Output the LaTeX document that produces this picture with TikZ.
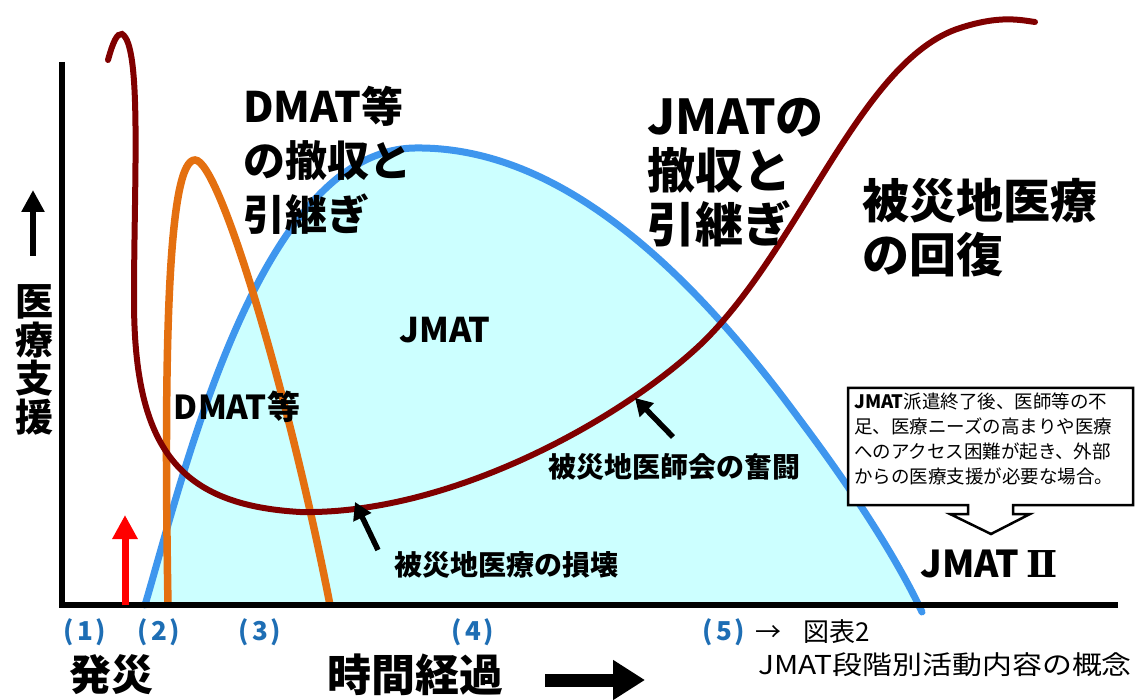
\documentclass[tikz,border=0pt]{standalone}
\usepackage{fontspec}
\setmainfont{Noto Sans CJK JP}
\newfontfamily\romanfont{DejaVu Serif}
\usetikzlibrary{arrows.meta}
\definecolor{maroon}{RGB}{128,0,0}
\definecolor{jorange}{RGB}{228,112,16}
\definecolor{jblue}{RGB}{62,150,238}
\definecolor{jfill}{RGB}{204,255,255}
\definecolor{numblue}{RGB}{30,110,180}
\tikzset{
  lbl/.style={inner sep=0pt, font=\bfseries},
  curve/.style={line width=7pt, line cap=round},
  ptr/.style={line width=5.5pt, -{Triangle[width=19pt,length=17pt]}},
  num/.style={inner sep=0pt, text=numblue, font=\bfseries\fontsize{26}{30}\selectfont},
}
\begin{document}
\begin{tikzpicture}[x=1pt,y=-1pt]
\useasboundingbox (0,0) rectangle (1135,700);
% JMAT area
\fill[jfill] (145,605) .. controls (185,470) and (260,150) .. (415,148)
  .. controls (560,146) and (690,270) .. (800,420)
  .. controls (860,500) and (895,560) .. (916,605) -- cycle;
\draw[curve, jblue] (145,605) .. controls (185,470) and (260,150) .. (415,148)
  .. controls (560,146) and (690,270) .. (800,420)
  .. controls (860,500) and (900,565) .. (922,612);
% DMAT curve
\draw[curve, jorange, line width=7.5pt, line cap=butt] (168,605) .. controls (163,320) and (170,160) .. (195,160)
  .. controls (220,160) and (290,400) .. (330,605);
% local medical curve
\draw[line width=6pt, maroon, line cap=round] (108,60) .. controls (113,42) and (117,33) .. (122,34)
  .. controls (142,45) and (134,180) .. (134,300)
  .. controls (134,450) and (180,505) .. (300,512)
  .. controls (450,515) and (620,420) .. (700,345)
  .. controls (800,250) and (860,60) .. (960,28)
  .. controls (1000,15) and (1020,20) .. (1035,22);
% axes
\draw[line width=5.5pt, line cap=butt] (62,62) -- (62,605) -- (1118,605);
% red onset arrow
\coordinate (r0) at (125,605);
\coordinate (r1) at (125,515);
\draw[red, line width=7pt, -{Triangle[width=24pt,length=24pt]}] (r0) -- (r1);
% y axis arrow and label
\coordinate (ya0) at (33,256);
\coordinate (ya1) at (33,190);
\draw[line width=6pt, -{Triangle[width=22pt,length=22pt]}] (ya0) -- (ya1);
\node[lbl, font=\bfseries\fontsize{38}{38.5}\selectfont, align=center] (ylab) at (34,360) {医\\療\\支\\援};
% texts
\node[lbl, font=\bfseries\fontsize{42}{54}\selectfont, align=left, anchor=west] (dmatw) at (243,160) {DMAT等\\の撤収と\\引継ぎ};
\node[lbl, font=\bfseries\fontsize{48}{54}\selectfont, align=left, anchor=west] (jmatw) at (647,173) {JMATの\\撤収と\\引継ぎ};
\node[lbl, font=\bfseries\fontsize{47}{54}\selectfont, align=left, anchor=west] (recov) at (862,228) {被災地医療\\の回復};
\node[lbl, font=\bfseries\fontsize{34}{38}\selectfont] (jmat) at (445,330) {JMAT};
\node[lbl, font=\bfseries\fontsize{33}{38}\selectfont] (dmat) at (237,407) {DMAT等};
\node[lbl, font=\bfseries\fontsize{28}{32}\selectfont] (fight) at (674,467) {被災地医師会の奮闘};
\node[lbl, font=\bfseries\fontsize{28}{32}\selectfont] (dmg) at (506,565) {被災地医療の損壊};
% pointers
\coordinate (p1t) at (378,550);
\coordinate (p1h) at (355,502);
\coordinate (p2t) at (673,437);
\coordinate (p2h) at (635,398);
\draw[ptr] (p1t) -- (p1h);
\draw[ptr] (p2t) -- (p2h);
% callout
\draw[line width=2.5pt, fill=white, line join=miter] (848,388) -- (1133,388) -- (1133,505) -- (1013,505) -- (1013,514)
  -- (1030,514) -- (991,534) -- (950,514) -- (968,514) -- (968,505) -- (848,505) -- cycle;
\node[inner sep=0pt, font=\fontsize{18.5}{25}\selectfont, align=left, anchor=north west] (note) at (854,393)
  {\textbf{JMAT}派遣終了後、医師等の不\\足、医療ニーズの高まりや医療\\へのアクセス困難が起き、外部\\からの医療支援が必要な場合。};
\node[lbl, font=\bfseries\fontsize{37}{40}\selectfont] (jmat2) at (989,564) {JMAT\kern7pt{\romanfont\bfseries Ⅱ}};
% phase numbers
\node[num] (n1) at (85,632) {(\kern3pt1\kern3pt)};
\node[num] (n2) at (159,632) {(\kern3pt2\kern3pt)};
\node[num] (n3) at (260,632) {(\kern3pt3\kern3pt)};
\node[num] (n4) at (473,632) {(\kern3pt4\kern3pt)};
\node[num] (n5) at (724,632) {(\kern3pt5\kern3pt)};
\node[inner sep=0pt, font=\fontsize{26}{30}\selectfont, anchor=west] (ref) at (755,632) {→\kern22pt 図表2};
% bottom
\node[lbl, font=\bfseries\fontsize{42}{46}\selectfont] (onset) at (111,675) {発災};
\node[lbl, font=\bfseries\fontsize{44}{48}\selectfont] (time) at (415,675) {時間経過};
\coordinate (ta0) at (545,680);
\coordinate (ta1) at (645,680);
\draw[line width=13pt, -{Triangle[width=38pt,length=32pt]}] (ta0) -- (ta1);
\node[inner sep=0pt, font=\fontsize{26}{30}\selectfont, anchor=east] (title) at (1132,665) {\scalebox{1.15}[1]{JMAT段階別活動内容の概念}};
\end{tikzpicture}
\end{document}
